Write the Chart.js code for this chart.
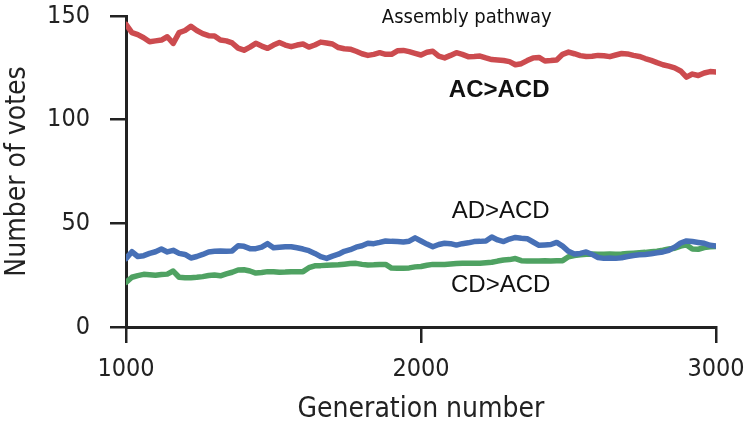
<!DOCTYPE html>
<html>
<head>
<meta charset="utf-8">
<script src="https://cdn.jsdelivr.net/npm/chart.js@4.4.1/dist/chart.umd.min.js"></script>
<style>
  html, body { margin: 0; padding: 0; background: #fff; }
  #wrap { width: 747px; height: 427px; }
</style>
</head>
<body>
<div id="wrap"><canvas id="chart" width="747" height="427"></canvas></div>
<script>
// x grid: one sample every 20 generations
const generations = Array.from({ length: 101 }, (_, i) => 1000 + i * 20);

const acAcd = [
  146, 142, 141, 139.5, 137.6, 138, 138.4, 140, 136.8, 142,
  143, 145, 143, 141.5, 140.5, 140.4, 138.4, 138, 137, 134.5,
  133.5, 135, 136.8, 135.5, 134.4, 136, 137.2, 136, 135.2, 136,
  136.5, 135, 136, 137.4, 137, 136.5, 134.8, 134.2, 134, 133,
  131.8, 131, 131.5, 132.3, 131.5, 131.5, 133.2, 133.4, 132.8, 132,
  131.2, 132.5, 133, 130.6, 129.8, 131, 132.3, 131.5, 130.4, 130.5,
  130.7, 129.8, 129, 128.8, 128.5, 128, 126.5, 127, 128.5, 129.8,
  130, 128.3, 128.5, 128.8, 131.5, 132.6, 131.8, 130.9, 130.5, 130.6,
  131, 130.8, 130.4, 131.2, 131.9, 131.7, 131, 130.5, 129.5, 128.6,
  127.5, 126.5, 125.8, 125, 123.5, 120.5, 122, 121.3, 122.5, 123.2,
  123
];

const adAcd = [
  33, 36.3, 34, 34.4, 35.5, 36.3, 37.6, 36.2, 37, 35.5,
  35, 33.3, 34, 35, 36.2, 36.5, 36.7, 36.5, 36.7, 39.2,
  38.9, 37.8, 37.8, 38.5, 40.2, 38.2, 38.5, 38.7, 38.7, 38.2,
  37.6, 36.8, 35.5, 33.9, 33.1, 34.2, 35.1, 36.5, 37.3, 38.5,
  39.2, 40.4, 40.2, 40.8, 41.5, 41.3, 41.2, 41, 41.4, 43,
  41.5, 40, 38.7, 39.8, 40.4, 40.2, 39.5, 40.2, 40.6, 41.2,
  41.3, 41.5, 43.4, 42, 41.2, 42.4, 43.2, 42.8, 42.6, 41,
  39.4, 39.6, 39.8, 40.8, 39, 36.5, 35.2, 35.5, 36.2, 35,
  33.5, 33.1, 33.3, 33.1, 33.4, 34, 34.5, 34.8, 35, 35.3,
  35.8, 36.2, 37, 38.5, 40.5, 41.5, 41.2, 40.8, 40.4, 39.4,
  39
];

const cdAcd = [
  21.5, 24, 24.8, 25.4, 25.2, 25, 25.3, 25.5, 27, 24,
  23.8, 23.8, 24, 24.3, 24.8, 25.1, 24.7, 25.6, 26.4, 27.5,
  27.6, 27, 26, 26.3, 26.7, 26.6, 26.4, 26.5, 26.7, 26.6,
  26.7, 28.6, 29.5, 29.6, 29.8, 29.9, 30, 30.3, 30.6, 30.7,
  30.2, 29.9, 30, 30.2, 30.2, 28.4, 28.3, 28.3, 28.5, 29,
  29.2, 29.8, 30.2, 30.2, 30.2, 30.4, 30.6, 30.7, 30.7, 30.7,
  30.8, 31, 31.2, 31.8, 32.3, 32.5, 33, 32, 31.8, 31.8,
  31.8, 31.9, 31.8, 31.9, 32, 33.9, 34.5, 34.8, 35.1, 35.2,
  35.1, 35.1, 35.2, 35.1, 35.2, 35.4, 35.6, 35.8, 36, 36.3,
  36.5, 37, 37.6, 38, 39, 39.6, 37.6, 37.5, 38.3, 38.7,
  38.8
];

const xTicks = [1000, 2000, 3000];
const yTicks = [0, 50, 100, 150];

// text labels placed in data coordinates
const notes = [
  { text: "Assembly pathway", x: 2155, y: 149, font: "20px 'DejaVu Sans Condensed', 'DejaVu Sans'" },
  { text: "AC>ACD", x: 2265, y: 114.3, font: "bold 24px 'Liberation Sans'" },
  { text: "AD>ACD", x: 2270, y: 56, font: "24px 'Liberation Sans'" },
  { text: "CD>ACD", x: 2270, y: 20.3, font: "24px 'Liberation Sans'" }
];

const toPoints = (vals) => vals.map((v, i) => ({ x: generations[i], y: v }));

const notesPlugin = {
  id: "notes",
  afterDatasetsDraw(chart) {
    const { ctx, scales } = chart;
    ctx.save();
    ctx.fillStyle = "#111";
    ctx.textAlign = "center";
    ctx.textBaseline = "middle";
    notes.forEach((n) => {
      ctx.font = n.font;
      ctx.fillText(n.text, scales.x.getPixelForValue(n.x), scales.y.getPixelForValue(n.y));
    });
    ctx.restore();
  }
};

const axisColor = "#222";
const axisFont = "'DejaVu Sans Condensed', 'DejaVu Sans'";

new Chart(document.getElementById("chart"), {
  type: "line",
  data: {
    datasets: [
      { label: "AC>ACD", data: toPoints(acAcd), borderColor: "#cc4b4f" },
      { label: "AD>ACD", data: toPoints(adAcd), borderColor: "#4770b6" },
      { label: "CD>ACD", data: toPoints(cdAcd), borderColor: "#4fa262" }
    ]
  },
  options: {
    responsive: false,
    animation: false,
    layout: { padding: { top: 16, right: 31, left: 0, bottom: 0 } },
    elements: {
      point: { radius: 0 },
      line: { borderWidth: 5.5, tension: 0, borderJoinStyle: "round", borderCapStyle: "round" }
    },
    plugins: {
      legend: { display: false },
      tooltip: { enabled: false }
    },
    scales: {
      x: {
        type: "linear",
        min: 1000,
        max: 3000,
        afterBuildTicks: (s) => { s.ticks = xTicks.map((v) => ({ value: v })); },
        afterFit: (s) => { s.height = 100; s.paddingLeft = 0; s.paddingRight = 0; },
        border: { display: true, color: axisColor, width: 3 },
        grid: { drawOnChartArea: false, drawTicks: true, tickLength: 16, color: axisColor, lineWidth: 2.5 },
        ticks: {
          color: "#222", padding: 11, maxRotation: 0,
          callback: (v) => String(v),
          font: { family: axisFont, size: 25 }
        },
        title: {
          display: true,
          text: "Generation number",
          color: "#222",
          padding: 0,
          font: { family: axisFont, size: 28 }
        }
      },
      y: {
        min: 0,
        max: 150,
        afterBuildTicks: (s) => { s.ticks = yTicks.map((v) => ({ value: v })); },
        afterFit: (s) => { s.width = 126; s.paddingTop = 0; s.paddingBottom = 0; },
        border: { display: true, color: axisColor, width: 3 },
        grid: { drawOnChartArea: false, drawTicks: true, tickLength: 16, color: axisColor, lineWidth: 2.5 },
        ticks: {
          color: "#222", padding: 20,
          callback: (v) => String(v),
          font: { family: axisFont, size: 25 }
        },
        title: {
          display: true,
          text: "Number of votes",
          color: "#222",
          padding: { top: 1, bottom: 0 },
          font: { family: axisFont, size: 28 }
        }
      }
    }
  },
  plugins: [notesPlugin]
});
</script>
</body>
</html>
